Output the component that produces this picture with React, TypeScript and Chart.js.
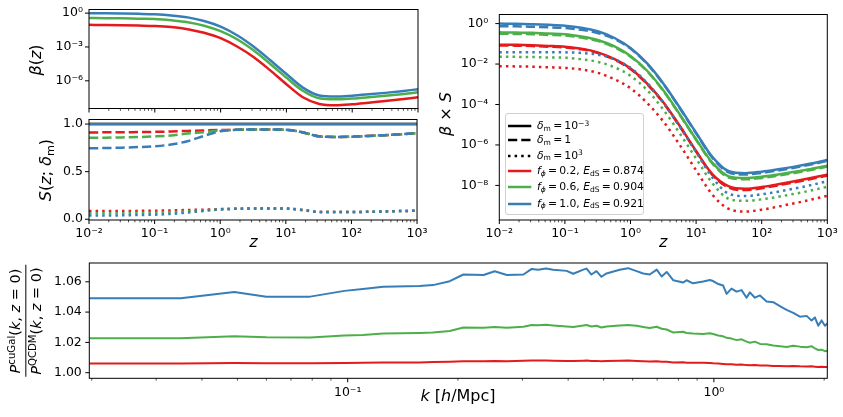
import React, { useEffect, useRef } from 'react';
import { Chart, registerables } from 'chart.js';
Chart.register(...registerables);

const RED = '#e41a1c';
const GREEN = '#4daf4a';
const BLUE = '#377eb8';

// ---- redshift grid and beta(z) ----
const zGrid = [0.01, 0.0178, 0.0316, 0.0562, 0.1, 0.178, 0.316, 0.562, 1, 1.78, 3.16, 5.62, 10, 17.8, 31.6, 56.2, 100, 178, 316, 562, 1000];

const betaRed = [0.091, 0.089, 0.085, 0.079, 0.072, 0.058, 0.038, 0.018, 6.0e-3, 1.1e-3, 1.3e-4, 8.9e-6, 5.0e-7, 3.5e-8, 8.9e-9, 6.8e-9, 8.3e-9, 1.15e-8, 1.6e-8, 2.3e-8, 3.4e-8];
const betaGreen = [0.37, 0.36, 0.35, 0.32, 0.30, 0.23, 0.155, 0.076, 0.025, 4.8e-3, 5.0e-4, 3.3e-5, 1.9e-6, 1.3e-7, 2.8e-8, 2.3e-8, 2.7e-8, 3.5e-8, 4.7e-8, 6.5e-8, 9.5e-8];
const betaBlue = [1.0, 0.98, 0.93, 0.87, 0.79, 0.63, 0.42, 0.20, 0.063, 0.011, 1.1e-3, 7.1e-5, 4.0e-6, 2.5e-7, 5.0e-8, 4.0e-8, 4.8e-8, 6.3e-8, 8.5e-8, 1.2e-7, 1.8e-7];

// ---- S(z; delta_m) ----
const sSolid = [1, 1, 1, 1, 1, 1, 1, 1, 1, 1, 1, 1, 1, 1, 1, 1, 1, 1, 1, 1, 1];
const sDashRed = [0.912, 0.913, 0.914, 0.916, 0.918, 0.922, 0.928, 0.933, 0.937, 0.94, 0.943, 0.943, 0.94, 0.915, 0.872, 0.865, 0.868, 0.875, 0.883, 0.893, 0.905];
const sDashGreen = [0.855, 0.857, 0.86, 0.864, 0.87, 0.88, 0.9, 0.915, 0.932, 0.94, 0.943, 0.943, 0.94, 0.915, 0.872, 0.865, 0.868, 0.875, 0.883, 0.893, 0.905];
const sDashBlue = [0.745, 0.748, 0.752, 0.758, 0.767, 0.785, 0.82, 0.875, 0.925, 0.94, 0.943, 0.943, 0.94, 0.915, 0.872, 0.865, 0.868, 0.875, 0.883, 0.893, 0.905];
const sDotRed = [0.086, 0.086, 0.087, 0.088, 0.09, 0.093, 0.097, 0.101, 0.106, 0.11, 0.113, 0.114, 0.112, 0.097, 0.077, 0.075, 0.076, 0.078, 0.082, 0.086, 0.09];
const sDotGreen = [0.062, 0.063, 0.064, 0.066, 0.069, 0.075, 0.083, 0.093, 0.105, 0.11, 0.113, 0.114, 0.112, 0.097, 0.077, 0.075, 0.076, 0.078, 0.082, 0.086, 0.09];
const sDotBlue = [0.038, 0.039, 0.041, 0.044, 0.048, 0.056, 0.07, 0.088, 0.103, 0.11, 0.113, 0.114, 0.112, 0.097, 0.077, 0.075, 0.076, 0.078, 0.082, 0.086, 0.09];

// ---- power spectrum ratio ----
const kGrid = [0.0197, 0.035, 0.049, 0.060, 0.079, 0.098, 0.11, 0.125, 0.157, 0.171, 0.19, 0.207, 0.235, 0.252, 0.272, 0.302, 0.318, 0.331, 0.348, 0.364, 0.396, 0.413, 0.44, 0.449, 0.463, 0.478, 0.493, 0.509, 0.553, 0.583, 0.615, 0.641, 0.668, 0.698, 0.72, 0.743, 0.775, 0.824, 0.842, 0.877, 0.935, 0.975, 0.995, 1.028, 1.06, 1.083, 1.117, 1.153, 1.19, 1.228, 1.254, 1.294, 1.336, 1.393, 1.452, 1.514, 1.579, 1.647, 1.717, 1.791, 1.848, 1.887, 1.927, 1.968, 2.01, 2.04];
const ratioBlue = [1.0492, 1.0492, 1.0533, 1.0502, 1.0502, 1.054, 1.0553, 1.0567, 1.0572, 1.0578,
  1.0604, 1.0648, 1.0645, 1.067, 1.0645, 1.0648, 1.0685, 1.068, 1.0687, 1.068,
  1.0672, 1.0653, 1.068, 1.0687, 1.0648, 1.067, 1.0633, 1.0655, 1.068, 1.069,
  1.067, 1.0655, 1.0648, 1.068, 1.0635, 1.0665, 1.061, 1.0595, 1.061, 1.059,
  1.0602, 1.0612, 1.0605, 1.0585, 1.0575, 1.052, 1.0555, 1.0535, 1.0545, 1.0495,
  1.053, 1.0495, 1.051, 1.047, 1.0465, 1.044, 1.0415, 1.0395, 1.037, 1.0375,
  1.0345, 1.0365, 1.031, 1.0345, 1.031, 1.0325];
const ratioGreen = [1.0228, 1.0228, 1.0241, 1.0234, 1.0233, 1.0245, 1.0248, 1.0258, 1.0262, 1.0265,
  1.0275, 1.0298, 1.0297, 1.0302, 1.0297, 1.0303, 1.0315, 1.0313, 1.0316, 1.0312,
  1.0305, 1.0302, 1.0312, 1.0315, 1.0305, 1.031, 1.0298, 1.0305, 1.0312, 1.0314,
  1.031, 1.0302, 1.0295, 1.0303, 1.029, 1.0285, 1.0265, 1.027, 1.0262, 1.0258,
  1.0256, 1.026, 1.0255, 1.0245, 1.024, 1.023, 1.0225, 1.0215, 1.022, 1.0205,
  1.0198, 1.0205, 1.019, 1.0188, 1.018, 1.0175, 1.017, 1.0178, 1.0172, 1.0168,
  1.0175, 1.016, 1.015, 1.0152, 1.0142, 1.0145];
const ratioRed = [1.0061, 1.0061, 1.0064, 1.0062, 1.0062, 1.0064, 1.0065, 1.0067, 1.0068, 1.007,
  1.0072, 1.0075, 1.0076, 1.0077, 1.0076, 1.0079, 1.008, 1.0081, 1.008, 1.0079,
  1.0078, 1.0077, 1.0079, 1.008, 1.0077, 1.0078, 1.0076, 1.0077, 1.0079, 1.008,
  1.0078, 1.0076, 1.0074, 1.0075, 1.0072, 1.0072, 1.0068, 1.0069, 1.0066, 1.0066,
  1.0065, 1.0064, 1.0062, 1.006, 1.0058, 1.0056, 1.0055, 1.0053, 1.0054, 1.005,
  1.0049, 1.005, 1.0047, 1.0047, 1.0045, 1.0044, 1.0043, 1.0044, 1.0042, 1.0041,
  1.0042, 1.004, 1.0038, 1.0039, 1.0037, 1.0038];

// ---- ticks ----
const zMajorExps = [-2, -1, 0, 1, 2, 3];
const betaYExps = [0, -3, -6];
const bsYExps = [0, -2, -4, -6, -8];
const sYTicks = [0, 0.5, 1.0];
const kMajorExps = [-1, 0];
const ratioYTicks = [1.0, 1.02, 1.04, 1.06];

// ---- legend ----
const fPhiVals = ['0.2', '0.6', '1.0'];
const eDSVals = ['0.874', '0.904', '0.921'];
const colorList = [RED, GREEN, BLUE];

const FONT = 'DejaVu Sans';
const SUP: Record<string, string> = { '-': '⁻', '0': '⁰', '1': '¹', '2': '²', '3': '³', '4': '⁴', '5': '⁵', '6': '⁶', '7': '⁷', '8': '⁸', '9': '⁹' };
const p10 = (e: number) => '10' + String(e).split('').map((c) => SUP[c]).join('');

const DASH = [9.25, 4];
const DOT = [2.5, 4.1];

function logTicks(min: number, max: number, majors: number[]) {
  const out: { value: number; major: boolean }[] = [];
  const e0 = Math.floor(Math.log10(min));
  const e1 = Math.ceil(Math.log10(max));
  for (let e = e0; e <= e1; e++) {
    for (let m = 1; m <= 9; m++) {
      const v = m * Math.pow(10, e);
      if (v < min * 0.9999 || v > max * 1.0001) continue;
      out.push({ value: v, major: m === 1 && majors.includes(e) });
    }
  }
  return out;
}

const frameTicks = {
  id: 'frameTicks',
  afterDraw(chart: any) {
    const { ctx, chartArea: a } = chart;
    const xs = chart.scales.x;
    const ys = chart.scales.y;
    ctx.save();
    ctx.strokeStyle = '#000';
    xs.ticks.forEach((t: any) => {
      const px = xs.getPixelForValue(t.value);
      ctx.lineWidth = t.major ? 1 : 0.7;
      ctx.beginPath();
      ctx.moveTo(px, a.bottom);
      ctx.lineTo(px, a.bottom + (t.major ? 4 : 2.3));
      ctx.stroke();
    });
    ys.ticks.forEach((t: any) => {
      const py = ys.getPixelForValue(t.value);
      ctx.lineWidth = 1;
      ctx.beginPath();
      ctx.moveTo(a.left, py);
      ctx.lineTo(a.left - 4, py);
      ctx.stroke();
    });
    ctx.lineWidth = 1;
    ctx.strokeRect(a.left, a.top, a.right - a.left, a.bottom - a.top);
    ctx.restore();
  },
};

const hiddenGrid = { display: true, drawOnChartArea: false, drawTicks: true, tickLength: 4, tickColor: 'rgba(0,0,0,0)', color: 'rgba(0,0,0,0)' };
const tickFont = { family: FONT, size: 12.5 };

function xLogAxis(min: number, max: number, majors: number[], xH: number, show: boolean) {
  const tk = logTicks(min, max, majors);
  return {
    type: 'logarithmic', position: 'bottom', min, max,
    afterBuildTicks: (s: any) => { s.ticks = tk.map((t) => ({ ...t })); },
    afterFit: (s: any) => { s.height = xH; },
    grid: hiddenGrid, border: { display: false },
    ticks: {
      display: show, autoSkip: false, maxRotation: 0, minRotation: 0, padding: 2.5, color: '#000', font: tickFont,
      callback: (v: number, i: number, ticks: any[]) => (ticks[i] && ticks[i].major ? p10(Math.round(Math.log10(v))) : ''),
    },
  };
}

function yLogAxis(min: number, max: number, exps: number[], yW: number, pad: number) {
  return {
    type: 'logarithmic', position: 'left', min, max,
    afterBuildTicks: (s: any) => { s.ticks = exps.map((e) => ({ value: Math.pow(10, e), major: true })); },
    afterFit: (s: any) => { s.width = yW; },
    grid: hiddenGrid, border: { display: false },
    ticks: {
      autoSkip: false, padding: pad, color: '#000', font: tickFont,
      callback: (v: number) => p10(Math.round(Math.log10(v))),
    },
  };
}

function yLinAxis(min: number, max: number, vals: number[], yW: number, pad: number, dec: number) {
  return {
    type: 'linear', position: 'left', min, max,
    afterBuildTicks: (s: any) => { s.ticks = vals.map((v) => ({ value: v, major: true })); },
    afterFit: (s: any) => { s.width = yW; },
    grid: hiddenGrid, border: { display: false },
    ticks: { autoSkip: false, padding: pad, color: '#000', font: tickFont, callback: (v: number) => Number(v).toFixed(dec) },
  };
}

function ds(xs: number[], ys: number[], color: string, dash: number[], width: number, smooth: boolean) {
  return {
    data: xs.map((x, i) => ({ x, y: ys[i] })),
    borderColor: color, backgroundColor: color, borderWidth: width, borderDash: dash,
    pointRadius: 0, fill: false, borderCapStyle: 'butt', borderJoinStyle: 'round',
    cubicInterpolationMode: smooth ? 'monotone' : 'default', tension: 0,
  };
}

function baseOpts(padTop: number, padRight: number, scales: any) {
  return {
    responsive: false, animation: false, events: [],
    layout: { padding: { top: padTop, right: padRight, left: 0, bottom: 0 } },
    plugins: { legend: { display: false }, tooltip: { enabled: false } },
    scales,
  };
}

const mul = (a: number[], b: number[]) => a.map((v, i) => v * b[i]);

const supS: React.CSSProperties = { fontSize: '70%', verticalAlign: 'baseline', position: 'relative', top: '-0.45em', lineHeight: 0 };
const subS: React.CSSProperties = { fontSize: '70%', verticalAlign: 'baseline', position: 'relative', top: '0.25em', lineHeight: 0 };
const TS = '\u2009';

function Lbl({ x, y, rot = 0, size = 16, children }: any) {
  return (
    <div style={{ position: 'absolute', left: x, top: y, transform: `translate(-50%,-50%) rotate(${rot}deg)`, fontSize: size, lineHeight: 1, whiteSpace: 'nowrap', fontFamily: FONT, color: '#000' }}>
      {children}
    </div>
  );
}

export default function App() {
  const rA = useRef<HTMLCanvasElement>(null);
  const rS = useRef<HTMLCanvasElement>(null);
  const rC = useRef<HTMLCanvasElement>(null);
  const rD = useRef<HTMLCanvasElement>(null);

  useEffect(() => {
    const charts: Chart[] = [];
    // Panel A: beta(z)
    charts.push(new Chart(rA.current as any, {
      type: 'line',
      data: { datasets: [
        ds(zGrid, betaBlue, BLUE, [], 2.5, true),
        ds(zGrid, betaGreen, GREEN, [], 2.5, true),
        ds(zGrid, betaRed, RED, [], 2.5, true),
      ] as any },
      options: baseOpts(9, 12, {
        x: xLogAxis(0.01, 1000, zMajorExps, 8, false),
        y: yLogAxis(3.5e-9, 2.1, betaYExps, 89, 2),
      }) as any,
      plugins: [frameTicks],
    }));
    // Panel S
    charts.push(new Chart(rS.current as any, {
      type: 'line',
      data: { datasets: [
        ds(zGrid, sSolid, BLUE, [], 2.5, true),
        ds(zGrid, sDashBlue, BLUE, DASH, 2.5, true),
        ds(zGrid, sDotBlue, BLUE, DOT, 2.5, true),
        ds(zGrid, sSolid, GREEN, [], 2.5, true),
        ds(zGrid, sDashGreen, GREEN, DASH, 2.5, true),
        ds(zGrid, sDotGreen, GREEN, DOT, 2.5, true),
        ds(zGrid, sSolid, RED, [], 2.5, true),
        ds(zGrid, sDashRed, RED, DASH, 2.5, true),
        ds(zGrid, sDotRed, RED, DOT, 2.5, true),
      ] as any },
      options: baseOpts(8.3, 12, {
        x: xLogAxis(0.01, 1000, zMajorExps, 32, true),
        y: yLinAxis(-0.008, 1.048, sYTicks, 89, 2, 1),
      }) as any,
      plugins: [frameTicks],
    }));
    // Panel C: beta x S
    charts.push(new Chart(rC.current as any, {
      type: 'line',
      data: { datasets: [
        ds(zGrid, mul(betaBlue, sSolid), BLUE, [], 2.5, true),
        ds(zGrid, mul(betaBlue, sDashBlue), BLUE, DASH, 2.5, true),
        ds(zGrid, mul(betaBlue, sDotBlue), BLUE, DOT, 2.5, true),
        ds(zGrid, mul(betaGreen, sSolid), GREEN, [], 2.5, true),
        ds(zGrid, mul(betaGreen, sDashGreen), GREEN, DASH, 2.5, true),
        ds(zGrid, mul(betaGreen, sDotGreen), GREEN, DOT, 2.5, true),
        ds(zGrid, mul(betaRed, sSolid), RED, [], 2.5, true),
        ds(zGrid, mul(betaRed, sDashRed), RED, DASH, 2.5, true),
        ds(zGrid, mul(betaRed, sDotRed), RED, DOT, 2.5, true),
      ] as any },
      options: baseOpts(8.3, 15.7, {
        x: xLogAxis(0.01, 1000, zMajorExps, 30, true),
        y: yLogAxis(1.95e-10, 2.82, bsYExps, 74.3, 7),
      }) as any,
      plugins: [frameTicks],
    }));
    // Panel D: power spectrum ratio
    charts.push(new Chart(rD.current as any, {
      type: 'line',
      data: { datasets: [
        ds(kGrid, ratioBlue, BLUE, [], 2, false),
        ds(kGrid, ratioGreen, GREEN, [], 2, false),
        ds(kGrid, ratioRed, RED, [], 2, false),
      ] as any },
      options: baseOpts(9.7, 15.7, {
        x: xLogAxis(0.0197, 2.04, kMajorExps, 38.7, true),
        y: yLinAxis(0.9963, 1.0724, ratioYTicks, 89.3, 3.5, 2),
      }) as any,
      plugins: [frameTicks],
    }));
    return () => charts.forEach((c) => c.destroy());
  }, []);

  const cv = (l: number, t: number, w: number, h: number): React.CSSProperties => ({ position: 'absolute', left: l, top: t, width: w, height: h });

  const legendRows = [126, 140, 155.5, 171, 187, 203.5];
  const styleSamples = [[], DASH, DOT];
  const styleTexts = [
    <span><i>δ</i><span style={subS}>m</span>{TS}={TS}10<span style={supS}>−3</span></span>,
    <span><i>δ</i><span style={subS}>m</span>{TS}={TS}1</span>,
    <span><i>δ</i><span style={subS}>m</span>{TS}={TS}10<span style={supS}>3</span></span>,
  ];

  return (
    <div style={{ position: 'fixed', left: 0, top: 0, width: 843, height: 417, background: '#fff', overflow: 'hidden', fontFamily: FONT }}>
      <canvas ref={rA} width={430} height={118} style={cv(0, 0, 430, 118)} />
      <canvas ref={rS} width={430} height={142} style={cv(0, 110, 430, 142)} />
      <canvas ref={rC} width={418} height={250} style={cv(425, 0, 418, 250)} />
      <canvas ref={rD} width={843} height={165} style={cv(0, 252, 843, 165)} />

      <Lbl x={36} y={60} rot={-90}><i>β</i>(<i>z</i>)</Lbl>
      <Lbl x={46} y={170} rot={-90}><i>S</i>(<i>z</i>; <i>δ</i><span style={subS}>m</span>)</Lbl>
      <Lbl x={446} y={114} rot={-90}><i>β</i> × <i>S</i></Lbl>
      <Lbl x={253.5} y={241.5}><i>z</i></Lbl>
      <Lbl x={663.3} y={241.5}><i>z</i></Lbl>
      <Lbl x={458} y={396}><i>k</i> [<i>h</i>/Mpc]</Lbl>
      <div style={{ position: 'absolute', left: 26, top: 321, transform: 'translate(-50%,-50%) rotate(-90deg)', fontSize: 14.5, lineHeight: 1.15, whiteSpace: 'nowrap', textAlign: 'center', color: '#000' }}>
        <div style={{ borderBottom: '1px solid #000', padding: '0 2px 1px' }}><i>P</i><span style={supS}>cuGal</span>(<i>k</i>, <i>z</i> = 0)</div>
        <div style={{ padding: '2px 2px 0' }}><i>P</i><span style={supS}>QCDM</span>(<i>k</i>, <i>z</i> = 0)</div>
      </div>

      <div style={{ position: 'absolute', left: 505, top: 113.3, width: 139, height: 102, boxSizing: 'border-box', border: '1px solid #d0d0d0', borderRadius: 3, background: 'rgba(255,255,255,0.8)' }} />
      {legendRows.map((y, i) => {
        const isStyle = i < 3;
        const color = isStyle ? '#000' : colorList[i - 3];
        const dash = isStyle ? styleSamples[i] : [];
        return (
          <React.Fragment key={i}>
            <svg style={{ position: 'absolute', left: 507.7, top: y - 3 }} width={24} height={6}>
              <line x1={0} x2={23.3} y1={3} y2={3} stroke={color} strokeWidth={2.5} strokeDasharray={dash.length ? dash.join(' ') : undefined} />
            </svg>
            <div style={{ position: 'absolute', left: 537, top: y, transform: 'translateY(-50%)', fontSize: 10.8, lineHeight: 1, whiteSpace: 'nowrap', color: '#000' }}>
              {isStyle ? styleTexts[i] : (
                <span><i>f</i><span style={subS}><i>ϕ</i></span>{TS}={TS}{fPhiVals[i - 3]}, <i>E</i><span style={subS}>dS</span>{TS}={TS}{eDSVals[i - 3]}</span>
              )}
            </div>
          </React.Fragment>
        );
      })}
    </div>
  );
}
